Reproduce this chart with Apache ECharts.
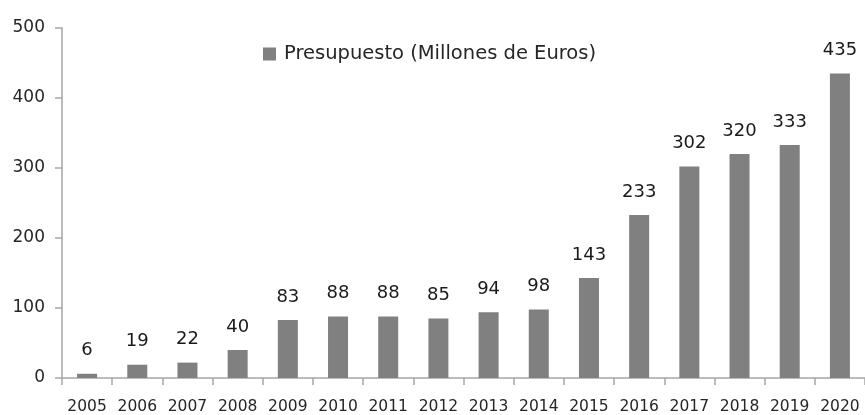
<!DOCTYPE html>
<html>
<head>
<meta charset="utf-8">
<script src="https://cdn.jsdelivr.net/npm/echarts@6/dist/echarts.min.js"></script>
<style>html,body{margin:0;padding:0;background:#fff;}#c{width:865px;height:415px;}</style>
</head>
<body>
<div id="c"></div>
<script>
const years = ['2005','2006','2007','2008','2009','2010','2011','2012','2013','2014','2015','2016','2017','2018','2019','2020'];
const budget = [6,19,22,40,83,88,88,85,94,98,143,233,302,320,333,435];
const seriesName = 'Presupuesto (Millones de Euros)';
const yMin = 0, yMax = 500, yStep = 100;

const chart = echarts.init(document.getElementById('c'), null, {renderer:'canvas'});
const font = 'DejaVu Sans';
chart.setOption({
  animation: false,
  backgroundColor: '#ffffff',
  legend: {
    data: [seriesName],
    left: 258, top: 39,
    icon: 'rect', itemWidth: 13, itemHeight: 13, itemGap: 10,
    textStyle: {fontFamily: font, fontSize: 19.5, color: '#262626', padding: [0,0,0,3]}
  },
  grid: {left: 62, right: -7, top: 28, bottom: 37, containLabel: false},
  xAxis: {
    type: 'category', data: years, boundaryGap: true,
    axisLine: {lineStyle: {color: '#a6a6a6', width: 1.5}},
    axisTick: {show: true, length: 7, alignWithLabel: false, lineStyle: {color: '#a6a6a6', width: 1.5}},
    axisLabel: {fontFamily: font, fontSize: 15.5, color: '#262626', margin: 21, interval: 0}
  },
  yAxis: {
    type: 'value', min: yMin, max: yMax, interval: yStep,
    splitLine: {show: false},
    axisLine: {show: true, lineStyle: {color: '#a6a6a6', width: 1.5}},
    axisTick: {show: true, length: 7, lineStyle: {color: '#a6a6a6', width: 1.5}},
    axisLabel: {fontFamily: font, fontSize: 17, color: '#262626', margin: 17}
  },
  series: [{
    name: seriesName, type: 'bar', data: budget, barWidth: 20,
    itemStyle: {color: '#808080'},
    label: {show: true, position: 'top', distance: 14, fontFamily: font, fontSize: 18, color: '#1a1a1a'}
  }]
});
</script>
</body>
</html>
